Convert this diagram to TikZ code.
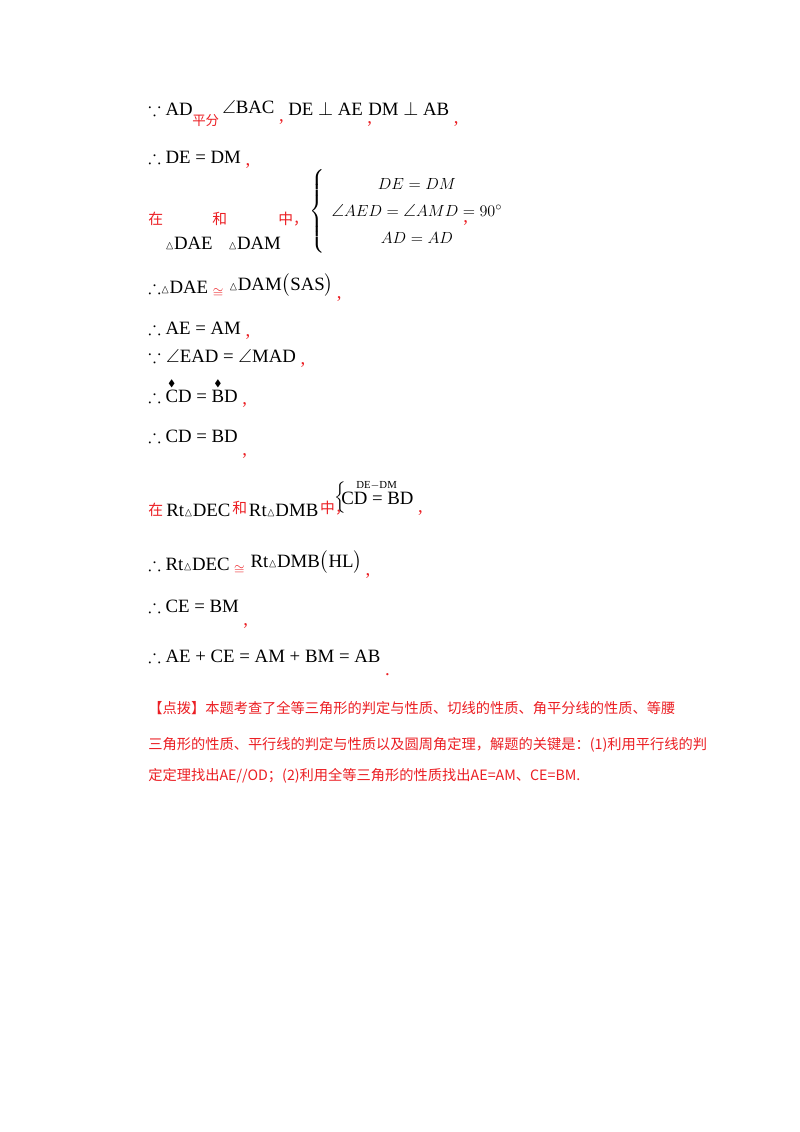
\documentclass[tikz,border=0pt]{standalone}
\usepackage{amsmath,amssymb}
\usepackage{fontspec}
\setmainfont{Liberation Serif}
\newfontfamily\cjk{Noto Sans CJK SC}
\definecolor{rd}{RGB}{235,30,35}
\tikzset{t/.style={anchor=base west,inner sep=0pt,font=\fontsize{14}{16}\selectfont},
 r/.style={t,text=rd},
 s/.style={anchor=base west,inner sep=0pt,font=\fontsize{8}{9}\selectfont},
 p/.style={anchor=base west,inner sep=0pt,text=rd,font=\fontsize{10.6}{13}\selectfont\cjk}}
\newcommand{\tri}{{\fontsize{9}{9}\selectfont$\vartriangle$}}
\newcommand{\dotover}[1]{$\overset{\raisebox{-3pt}{\scriptsize$\blacklozenge$}}{\text{#1}}$}
\begin{document}
\begin{tikzpicture}[x=0.744pt,y=-0.744pt]
\useasboundingbox (0,0) rectangle (800,1132);
\node[t] (a1) at (148,115) {$\because$ AD};
\node[r,font=\fontsize{10}{12}\selectfont\cjk] (a2) at (192,125) {平分};
\node[t] (a3) at (222,113) {$\angle$BAC};
\node[r] (a4) at ([xshift=3pt,yshift=-6pt]a3.base east) {,};
\node[t] (a5) at (288,115) {DE $\perp$ AE};
\node[r] (a6) at ([xshift=3pt,yshift=-6pt]a5.base east) {,};
\node[t] (a7) at (368,115) {DM $\perp$ AB};
\node[r] (a8) at ([xshift=3pt,yshift=-6pt]a7.base east) {,};
\node[t] (b1) at (148,163) {$\therefore$ DE = DM};
\node[r] (b2) at ([xshift=3pt,yshift=-2pt]b1.base east) {,};
\node[r,font=\fontsize{11}{12}\selectfont\cjk] (c1) at (148,224) {在};
\node[r,font=\fontsize{11}{12}\selectfont\cjk] (c2) at (212,224) {和};
\node[r,font=\fontsize{11}{12}\selectfont\cjk] (c3) at (278,224) {中，};
\node[t] (c4) at (165,249) {\tri DAE};
\node[t] (c5) at (228,249) {\tri DAM};
\node[anchor=west,inner sep=0pt,font=\fontsize{13}{15}\selectfont] (c6) at (309,211)
 {$\left\{\renewcommand{\arraystretch}{1.35}\begin{array}{c}DE=DM\\\angle AED=\angle AMD=90^{\circ}\\AD=AD\end{array}\right.$};
\node[r] (c7) at (463,222) {,};
\node[t] (d1) at (148,293) {$\therefore$\tri DAE};
\node[r,font=\fontsize{10}{10}\selectfont] (d2) at ([xshift=3pt,yshift=-3pt]d1.base east) {$\cong$};
\node[t] (d3) at ([xshift=4pt,yshift=5pt]d2.base east) {\tri DAM$\big($SAS$\big)$};
\node[r] (d4) at ([xshift=2pt,yshift=-6pt]d3.base east) {,};
\node[t] (e1) at (148,334) {$\therefore$ AE = AM};
\node[r] (e2) at ([xshift=3pt,yshift=-2pt]e1.base east) {,};
\node[t] (f1) at (148,362) {$\because\angle$EAD = $\angle$MAD};
\node[r] (f2) at ([xshift=3pt,yshift=-2pt]f1.base east) {,};
\node[t] (g1) at (148,402) {$\therefore$ \dotover{C}D = \dotover{B}D};
\node[r] (g2) at ([xshift=3pt,yshift=-2pt]g1.base east) {,};
\node[t] (h1) at (148,442) {$\therefore$ CD = BD};
\node[r] (h2) at ([xshift=3pt,yshift=-10pt]h1.base east) {,};
\node[r,font=\fontsize{11}{12}\selectfont\cjk] (i1) at (148,515) {在};
\node[t] (i2) at (166,516) {Rt\tri DEC};
\node[r,font=\fontsize{11}{12}\selectfont\cjk] (i3) at ([xshift=1pt,yshift=2pt]i2.base east) {和};
\node[t] (i4) at ([xshift=1pt,yshift=-2pt]i3.base east) {Rt\tri DMB};
\node[r,font=\fontsize{11}{12}\selectfont\cjk] (i5) at ([xshift=1pt,yshift=2pt]i4.base east) {中，};
\node[anchor=west,inner sep=0pt,font=\fontsize{13}{15}\selectfont] (i6) at (334,498) {$\left\{\rule{0pt}{14pt}\right.$};
\node[s] (i7) at (356,488) {DE$-$DM};
\node[t] (i8) at (341,504) {CD = BD};
\node[r] (i9) at ([xshift=3pt,yshift=-6pt]i8.base east) {,};
\node[t] (j1) at (148,570) {$\therefore$ Rt\tri DEC};
\node[r,font=\fontsize{10}{10}\selectfont] (j2) at ([xshift=3pt,yshift=-3pt]j1.base east) {$\cong$};
\node[t] (j3) at ([xshift=4pt,yshift=5pt]j2.base east) {Rt\tri DMB$\big($HL$\big)$};
\node[r] (j4) at ([xshift=2pt,yshift=-6pt]j3.base east) {,};
\node[t] (k1) at (148,612) {$\therefore$ CE = BM};
\node[r] (k2) at ([xshift=3pt,yshift=-10pt]k1.base east) {,};
\node[t] (l1) at (148,662) {$\therefore$ AE + CE = AM + BM = AB};
\node[r] (l2) at ([xshift=3pt,yshift=-10pt]l1.base east) {.};
\node[p] (m1) at (148,713) {【点拨】本题考查了全等三角形的判定与性质、切线的性质、角平分线的性质、等腰};
\node[p] (m2) at (148,749) {三角形的性质、平行线的判定与性质以及圆周角定理，解题的关键是：(1)利用平行线的判};
\node[p] (m3) at (148,780) {定定理找出AE//OD；(2)利用全等三角形的性质找出AE=AM、CE=BM.};
\end{tikzpicture}
\end{document}
